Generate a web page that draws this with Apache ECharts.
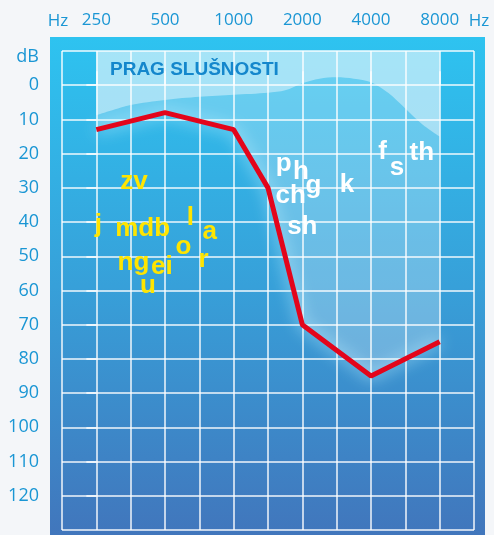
<!DOCTYPE html>
<html>
<head>
<meta charset="utf-8">
<script src="https://cdn.jsdelivr.net/npm/echarts@6/dist/echarts.min.js"></script>
<style>
  html, body { margin: 0; padding: 0; background: #f4f6f9; }
  #chart { width: 494px; height: 535px; }
</style>
</head>
<body>
<div id="chart"></div>
<script>
// x positions are octaves above 250 Hz (audiogram spacing, 1500 Hz sits half way)
const freqLabels = ['250', '500', '1000', '2000', '4000', '8000']
const freqTicks = [0, 1, 2, 3, 4, 5]
const dbTicks = [0, 10, 20, 30, 40, 50, 60, 70, 80, 90, 100, 110, 120]

// measured hearing (red line)
const lossX = [0, 1, 2, 2.5, 3, 4, 5]
const lossDb = [13, 8, 13, 30, 70, 85, 75]

// normal hearing threshold (light curve)
const normalX = [0, 0.5, 1, 1.5, 2, 2.5, 2.75, 3, 3.25, 3.5, 3.75, 4, 4.25, 4.5, 4.75, 5]
const normalDb = [8.8, 5.8, 4.3, 3.4, 2.8, 2.2, 1.5, -0.6, -1.9, -2.3, -1.9, -0.9, 2.2, 6.8, 11.5, 15]

// speech sounds
const yellowText = ['zv', 'j', 'mdb', 'l', 'a', 'o', 'r', 'ng', 'ei', 'u']
const yellowX = [0.55, 0.03, 0.675, 1.37, 1.65, 1.27, 1.56, 0.54, 0.955, 0.75]
const yellowDb = [28.3, 40.8, 41.9, 38.8, 42.8, 47.2, 51.1, 52, 53, 58.5]

const whiteText = ['p', 'h', 'g', 'ch', 'sh', 'k', 'f', 's', 'th']
const whiteX = [2.73, 2.98, 3.16, 2.83, 3.0, 3.65, 4.17, 4.38, 4.74]
const whiteDb = [22.9, 25.2, 29.5, 32.2, 41.4, 29.1, 19.4, 24.2, 19.9]

const axisColor = '#1a96d4'
const gridLine = { color: 'rgba(255,255,255,0.92)', width: 1.5 }

const chart = echarts.init(document.getElementById('chart'))

const phonemes = (texts, xs, dbs, color) => ({
  type: 'scatter',
  symbolSize: 0,
  silent: true,
  z: 10,
  itemStyle: { opacity: 1 },
  data: texts.map((t, i) => [xs[i], dbs[i], t]),
  label: {
    show: true,
    position: 'inside',
    formatter: (p) => p.data[2],
    color: color,
    opacity: 1,
    fontSize: 26,
    fontWeight: 'bold',
    fontFamily: 'Liberation Sans, Arial, sans-serif',
  },
})

// same extent for the grid-line axis and the labelled axis
const xBase = { type: 'value', min: -0.5, max: 5.5, interval: 0.5 }
const yBase = { type: 'value', inverse: true, min: -10, max: 130, interval: 10 }

chart.setOption({
  backgroundColor: '#f4f6f9',
  animation: false,
  title: {
    text: 'PRAG SLUŠNOSTI',
    left: 110,
    top: 60,
    padding: 0,
    textStyle: {
      color: '#1487cc',
      fontSize: 19,
      fontWeight: 'bold',
      fontFamily: 'Liberation Sans, Arial, sans-serif',
    },
  },
  graphic: [
    {
      type: 'rect',
      z: -10,
      silent: true,
      shape: { x: 50, y: 37, width: 435, height: 498 },
      style: {
        fill: new echarts.graphic.LinearGradient(0, 0, 0, 1, [
          { offset: 0, color: '#2ec3f0' },
          { offset: 0.5, color: '#37a0d9' },
          { offset: 1, color: '#4176bc' },
        ]),
      },
    },
    {
      type: 'text',
      x: 58, y: 21,
      style: { text: 'Hz', fill: axisColor, font: '17px "Open Sans", sans-serif', align: 'center', verticalAlign: 'middle' },
    },
    {
      type: 'text',
      x: 479, y: 21,
      style: { text: 'Hz', fill: axisColor, font: '17px "Open Sans", sans-serif', align: 'center', verticalAlign: 'middle' },
    },
    {
      type: 'text',
      x: 39, y: 57,
      style: { text: 'dB', fill: axisColor, font: '18px "Open Sans", sans-serif', align: 'right', verticalAlign: 'middle' },
    },
  ],
  grid: { left: 62, right: 20, top: 51, bottom: 5, containLabel: false },
  xAxis: [
    {
      ...xBase,
      position: 'top',
      axisLine: { show: false },
      axisTick: { show: false },
      axisLabel: { show: false },
      splitLine: { show: true, lineStyle: gridLine },
    },
    {
      ...xBase,
      position: 'top',
      axisLine: { show: false },
      axisTick: { show: true, length: 14, customValues: freqTicks, lineStyle: gridLine },
      axisLabel: {
        customValues: freqTicks,
        formatter: (v) => freqLabels[Math.round(v)],
        margin: 22,
        color: axisColor,
        fontSize: 17,
        fontFamily: 'Open Sans, sans-serif',
      },
      splitLine: { show: false },
    },
  ],
  yAxis: [
    {
      ...yBase,
      position: 'left',
      axisLine: { show: false },
      axisTick: { show: false },
      axisLabel: { show: false },
      splitLine: { show: true, lineStyle: gridLine },
    },
    {
      ...yBase,
      position: 'left',
      offset: 0,
      axisLine: { show: false },
      axisTick: { show: true, length: 10, customValues: dbTicks, lineStyle: gridLine },
      axisLabel: {
        customValues: dbTicks,
        margin: 23,
        color: axisColor,
        fontSize: 18,
        fontFamily: 'Open Sans, sans-serif',
      },
      splitLine: { show: false },
    },
  ],
  series: [
    {
      type: 'line',
      smooth: 0.3,
      symbol: 'none',
      silent: true,
      data: normalX.map((x, i) => [x, normalDb[i]]),
      lineStyle: { width: 0 },
      areaStyle: { origin: 'start', color: 'rgba(255,255,255,0.6)' },
    },
    {
      type: 'line',
      symbol: 'none',
      silent: true,
      data: lossX.map((x, i) => [x, lossDb[i]]),
      lineStyle: {
        color: '#e3051b',
        width: 5,
        shadowColor: 'rgba(190,240,255,0.95)',
        shadowBlur: 16,
      },
      areaStyle: { origin: 'start', color: 'rgba(255,255,255,0.38)' },
      z: 5,
    },
    phonemes(yellowText, yellowX, yellowDb, '#ffe500'),
    phonemes(whiteText, whiteX, whiteDb, '#ffffff'),
  ],
})

window.addEventListener('resize', () => chart.resize())
</script>
</body>
</html>
